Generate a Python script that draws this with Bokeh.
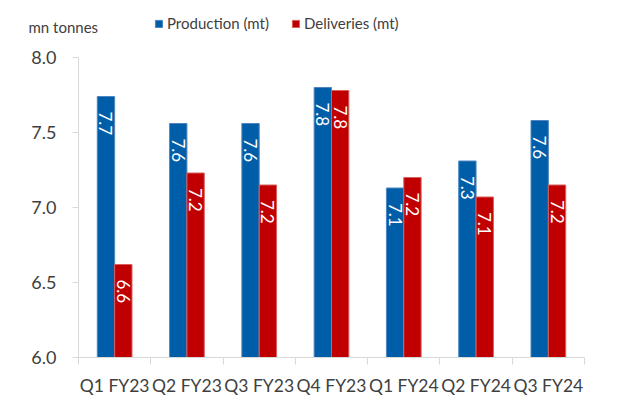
import math
from bokeh.plotting import figure
from bokeh.models import (ColumnDataSource, FixedTicker, Range1d, Legend, LegendItem,
                          Label, NumeralTickFormatter)
from bokeh.core.properties import value
from bokeh.embed import file_html
from bokeh.resources import INLINE

categories = ["Q1 FY23", "Q2 FY23", "Q3 FY23", "Q4 FY23", "Q1 FY24", "Q2 FY24", "Q3 FY24"]
production = [7.74, 7.56, 7.56, 7.80, 7.13, 7.31, 7.58]
deliveries = [6.62, 7.23, 7.15, 7.78, 7.20, 7.07, 7.15]
production_labels = ["7.7", "7.6", "7.6", "7.8", "7.1", "7.3", "7.6"]
deliveries_labels = ["6.6", "7.2", "7.2", "7.8", "7.2", "7.1", "7.2"]
y_ticks = [6.0, 6.5, 7.0, 7.5, 8.0]
unit_label = "mn tonnes"
series_names = ["Production (mt)", "Deliveries (mt)"]

BLUE = "#005EA8"
RED = "#C00000"
BLUE_EDGE = "#4f86c0"
RED_EDGE = "#d95f5f"
TXT = "#404040"
AXIS = "#d9d9d9"
FONT = "Lato"
BW = 0.24

W, H = 619, 396
# plot-area box inside the canvas (pixels)
L, R, T, B = 78, 584, 57, 357

n = len(categories)
centers = [i + 0.5 for i in range(n)]
y0, y1 = y_ticks[0], y_ticks[-1]

# ranges chosen so the frame covers the whole canvas; the axes are pinned
# at the edges of the plotting box with fixed_location
xs = (R - L) / n
ys = (B - T) / (y1 - y0)
x_range = Range1d(-L / xs, n + (W - R) / xs)
y_range = Range1d(y0 - (H - B) / ys, y1 + T / ys)

src_p = ColumnDataSource(dict(x=[c - BW / 2 for c in centers], top=production, lab=production_labels))
src_d = ColumnDataSource(dict(x=[c + BW / 2 for c in centers], top=deliveries, lab=deliveries_labels))

p = figure(width=W, height=H, output_backend="svg", toolbar_location=None,
           x_range=x_range, y_range=y_range,
           min_border_left=0, min_border_right=0, min_border_top=0, min_border_bottom=0)
p.outline_line_color = None
p.xgrid.grid_line_color = None
p.ygrid.grid_line_color = None
p.background_fill_color = "white"
p.border_fill_color = "white"

r_p = p.vbar(x="x", top="top", bottom=y0, width=BW, source=src_p,
             fill_color=BLUE, line_color=BLUE_EDGE, line_width=1)
r_d = p.vbar(x="x", top="top", bottom=y0, width=BW, source=src_d,
             fill_color=RED, line_color=RED_EDGE, line_width=1)

for src in (src_p, src_d):
    p.text(x="x", y="top", text="lab", source=src, angle=-math.pi / 2,
           text_align="left", text_baseline="middle", y_offset=15,
           text_color="white", text_font=value(FONT), text_font_size="17px")

ya = p.yaxis[0]
ya.fixed_location = 0
ya.bounds = (y0, y1)
ya.ticker = FixedTicker(ticks=y_ticks)
ya.formatter = NumeralTickFormatter(format="0.0")
ya.axis_line_color = AXIS
ya.major_tick_line_color = AXIS
ya.major_tick_out = 6
ya.major_tick_in = 0
ya.minor_tick_line_color = None
ya.major_label_standoff = 16
ya.major_label_text_font = FONT
ya.major_label_text_font_size = "18px"
ya.major_label_text_color = TXT

xa = p.xaxis[0]
xa.fixed_location = y0
xa.bounds = (0, n)
xa.ticker = FixedTicker(ticks=centers, minor_ticks=list(range(n + 1)))
xa.major_label_overrides = {c: categories[i] for i, c in enumerate(centers)}
xa.axis_line_color = AXIS
xa.major_tick_line_color = None
xa.major_tick_out = 0
xa.major_tick_in = 0
xa.minor_tick_line_color = AXIS
xa.minor_tick_out = 7
xa.minor_tick_in = 0
xa.major_label_standoff = 10
xa.major_label_text_font = FONT
xa.major_label_text_font_size = "17.5px"
xa.major_label_text_color = TXT

legend = Legend(items=[LegendItem(label=series_names[0], renderers=[r_p]),
                       LegendItem(label=series_names[1], renderers=[r_d])],
                orientation="horizontal", location=(154, H - 32),
                glyph_width=9, glyph_height=9, label_height=18, spacing=22, label_standoff=4,
                label_text_font=FONT, label_text_font_size="15px", label_text_color=TXT,
                background_fill_alpha=0, border_line_color=None, padding=0, margin=0)
p.add_layout(legend, "center")

p.add_layout(Label(x=28, y=H - 26, x_units="screen", y_units="screen", text=unit_label,
                   text_baseline="middle",
                   text_font=FONT, text_font_size="15px", text_color=TXT))

open("out.html", "w").write(file_html(p, INLINE))
